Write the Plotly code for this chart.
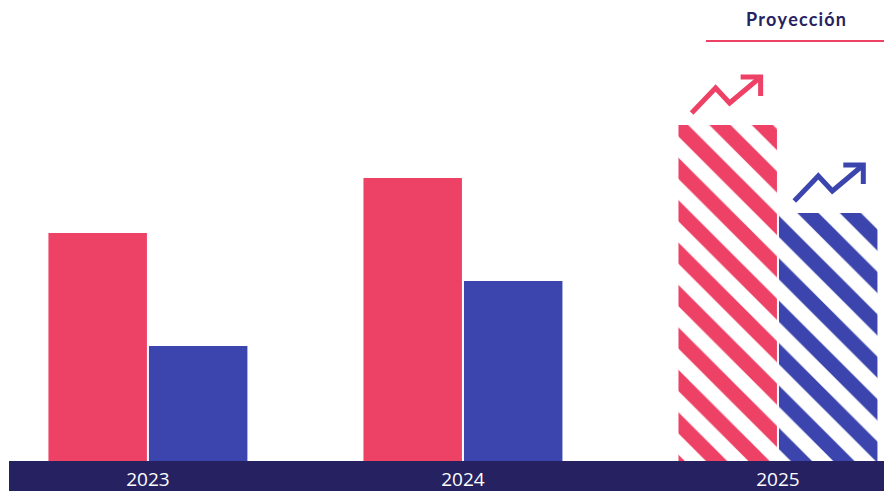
import plotly.graph_objects as go

years = ["2023", "2024", "2025"]
serie_a = [228, 283, 336]   # rojo
serie_b = [115, 180, 248]   # azul
proyectado = [False, False, True]

RED = "#EE4166"
BLUE = "#3B45AD"
NAVY = "#262262"

# x in "group" units: 1 unit = 315 px, y in px-like units
x = [0, 1, 2]
PX = 1 / 315


def patterns(color):
    return dict(
        shape=["\\" if p else "" for p in proyectado],
        fgcolor=color,
        bgcolor="white",
        fillmode="replace",
        size=30,
        solidity=0.5,
    )


fig = go.Figure()

fig.add_trace(go.Bar(
    x=x, y=serie_a, name="A",
    marker=dict(color=RED, line=dict(width=0), pattern=patterns(RED)),
))
fig.add_trace(go.Bar(
    x=x, y=serie_b, name="B",
    marker=dict(color=BLUE, line=dict(width=0), pattern=patterns(BLUE)),
))

# trending arrows above projected bars
arrow = [(-35, -12), (-11, -37), (3, -22), (34, -48)]
head = [(14, -48), (34, -48), (34, -29)]
for vals, off, color in [(serie_a, -0.163, RED), (serie_b, 0.163, BLUE)]:
    for i, p in enumerate(proyectado):
        if not p:
            continue
        cx = x[i] + off
        top = vals[i]
        for seg in (arrow, head):
            fig.add_trace(go.Scatter(
                x=[cx + dx * PX for dx, dy in seg],
                y=[top - dy for dx, dy in seg],
                mode="lines",
                line=dict(color=color, width=5),
                hoverinfo="skip",
                showlegend=False,
            ))

# dark band behind the year labels
fig.add_shape(type="rect", xref="paper", yref="paper",
              x0=0, x1=1, y0=-30 / 453, y1=0,
              fillcolor=NAVY, line=dict(width=0), layer="below")

# "Proyección" header
titulo = "\u200a".join("Proyección")
fig.add_annotation(x=2 + 18 * PX, y=442, xref="x", yref="y", text="<b>" + titulo + "</b>",
                   showarrow=False, font=dict(family="Lato", size=18, color=NAVY))
fig.add_shape(type="line", xref="x", yref="y",
              x0=2 - 72 * PX, x1=2 + 107 * PX, y0=420, y1=420,
              line=dict(color=RED, width=2))

fig.update_layout(
    width=884, height=483,
    margin=dict(l=1, r=0, t=0, b=30),
    barmode="group",
    bargap=0.362,
    bargroupgap=0.02,
    showlegend=False,
    plot_bgcolor="white",
    paper_bgcolor="white",
    xaxis=dict(
        range=[-0.441, 2.362],
        tickvals=x,
        ticktext=years,
        showgrid=False,
        zeroline=False,
        showline=False,
        ticks="",
        ticklabelstandoff=5,
        tickfont=dict(family="Open Sans", size=19, color="white"),
    ),
    yaxis=dict(
        range=[0, 453],
        visible=False,
    ),
)

fig.write_html("out.html")
